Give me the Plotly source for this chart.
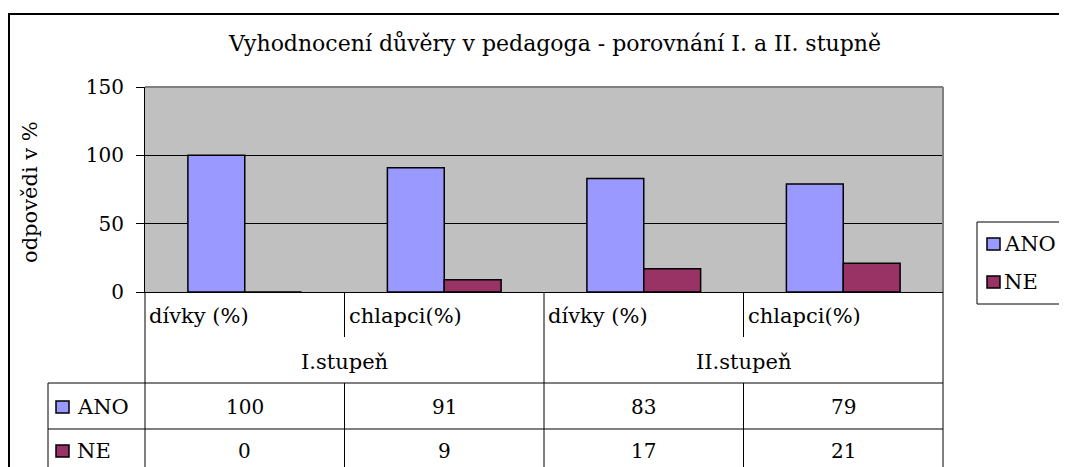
import plotly.graph_objects as go

# data
categories = ["dívky (%)", "chlapci(%)", "dívky (%)", "chlapci(%)"]
groups = ["I.stupeň", "II.stupeň"]
series_names = ["ANO", "NE"]
ano = [100, 91, 83, 79]
ne = [0, 9, 17, 21]
y_ticks = [0, 50, 100, 150]

title = "Vyhodnocení důvěry v pedagoga - porovnání I. a II. stupně"
y_title = "odpovědi v %"

# layout constants (pixels, in page coordinates; the page body adds 8px)
W, H = 1067, 467
OFF = 8
PL, PT, PR, PB = 145, 87, 943, 292  # plot area in page pixels
L, T = PL - OFF, PT - OFF
PW, PH = PR - PL, PB - PT
R, B = W - L - PW, H - T - PH
FONT = "DejaVu Serif"
FS = 21
NUM_FS = 20
colors = ["#9999FF", "#993366"]


def px(p):
    return (p - PL) / PW


def py(p):
    return (PB - p) / PH


def cx(v):
    return (v + 0.5) / len(categories)


fig = go.Figure()
for name, vals, col in zip(series_names, [ano, ne], colors):
    fig.add_trace(
        go.Bar(
            x=list(range(len(categories))),
            y=vals,
            name=name,
            marker=dict(color=col, line=dict(color="black", width=1.5)),
        )
    )

fig.update_layout(
    width=W,
    height=H,
    margin=dict(l=L, r=R, t=T, b=B, autoexpand=False),
    paper_bgcolor="white",
    plot_bgcolor="#C0C0C0",
    barmode="group",
    bargap=0.43,
    bargroupgap=0,
    showlegend=False,
    font=dict(family=FONT, size=FS, color="black"),
    title=dict(
        text=title,
        x=(555 - OFF) / W,
        y=1 - (43 - OFF) / H,
        xref="container",
        yref="container",
        xanchor="center",
        yanchor="middle",
        font=dict(family=FONT, size=22),
    ),
)

fig.update_xaxes(
    range=[-0.5, len(categories) - 0.5],
    showticklabels=False,
    ticks="",
    showgrid=False,
    zeroline=False,
    showline=True,
    linecolor="black",
    linewidth=1,
)
fig.update_yaxes(
    range=[0, 150],
    tickvals=y_ticks,
    ticks="outside",
    ticklen=8,
    tickcolor="black",
    ticklabelstandoff=8,
    showgrid=True,
    gridcolor="black",
    gridwidth=1,
    zeroline=False,
    showline=True,
    linecolor="black",
    linewidth=1,
    tickfont=dict(family=FONT, size=NUM_FS),
)

shapes = []
line = dict(color="black", width=1)
bottom = py(490)

# gray top / right border of plot area
shapes.append(dict(type="line", xref="paper", yref="paper", x0=0, x1=1, y0=1, y1=1,
                   line=dict(color="#808080", width=2), layer="above"))
shapes.append(dict(type="line", xref="paper", yref="paper", x0=1, x1=1, y0=0, y1=1,
                   line=dict(color="#808080", width=2), layer="above"))

# data table grid
for xv in [0, cx(1.5), 1]:
    shapes.append(dict(type="line", xref="paper", yref="paper", x0=xv, x1=xv, y0=0, y1=bottom, line=line))
for v in [0.5, 2.5]:
    shapes.append(dict(type="line", xref="paper", yref="paper", x0=cx(v), x1=cx(v), y0=0, y1=py(337), line=line))
    shapes.append(dict(type="line", xref="paper", yref="paper", x0=cx(v), x1=cx(v), y0=py(383), y1=bottom, line=line))
for yy in [383, 429]:
    shapes.append(dict(type="line", xref="paper", yref="paper", x0=px(48), x1=1, y0=py(yy), y1=py(yy), line=line))
shapes.append(dict(type="line", xref="paper", yref="paper", x0=px(48), x1=px(48), y0=py(383), y1=bottom, line=line))

# outer chart border
shapes.append(dict(type="rect", xref="paper", yref="paper", x0=px(9), x1=px(1100), y0=py(500), y1=py(14),
                   line=dict(color="black", width=2)))

# legend box
shapes.append(dict(type="rect", xref="paper", yref="paper", x0=px(977), x1=px(1100), y0=py(304), y1=py(222),
                   line=dict(color="black", width=1), fillcolor="white"))

annotations = []
# category labels
for i, c in enumerate(categories):
    annotations.append(dict(text=c, xref="paper", yref="paper", x=cx(i - 0.5), y=py(316),
                            xanchor="left", yanchor="middle", xshift=2, showarrow=False,
                            font=dict(family=FONT, size=FS)))
# group labels
for g, gi in zip(groups, [0.5, 2.5]):
    annotations.append(dict(text=g, xref="paper", yref="paper", x=cx(gi), y=py(362),
                            xanchor="center", yanchor="middle", showarrow=False,
                            font=dict(family=FONT, size=FS)))
# value rows + legend entries
for name, vals, col, yy, ly in zip(series_names, [ano, ne], colors, [407, 451], [244, 282]):
    for (kx, tx, ky) in [(56, 75, yy), (987, 1002, ly)]:
        shapes.append(dict(type="rect", xref="paper", yref="paper", x0=px(kx), x1=px(kx + 13),
                           y0=py(ky + 6), y1=py(ky - 6), fillcolor=col,
                           line=dict(color="black", width=1.5)))
        annotations.append(dict(text=name, xref="paper", yref="paper", x=px(tx), y=py(ky),
                                xanchor="left", yanchor="middle", showarrow=False,
                                font=dict(family=FONT, size=FS)))
    for i, v in enumerate(vals):
        annotations.append(dict(text=str(v), xref="paper", yref="paper", x=cx(i), y=py(yy),
                                xanchor="center", yanchor="middle", showarrow=False,
                                font=dict(family=FONT, size=NUM_FS)))

# y axis title
annotations.append(dict(text=y_title, xref="paper", yref="paper", x=px(30), y=py(192),
                        xanchor="center", yanchor="middle", textangle=-90, showarrow=False,
                        font=dict(family=FONT, size=FS)))

fig.update_layout(shapes=shapes, annotations=annotations)

fig.write_html("out.html")
